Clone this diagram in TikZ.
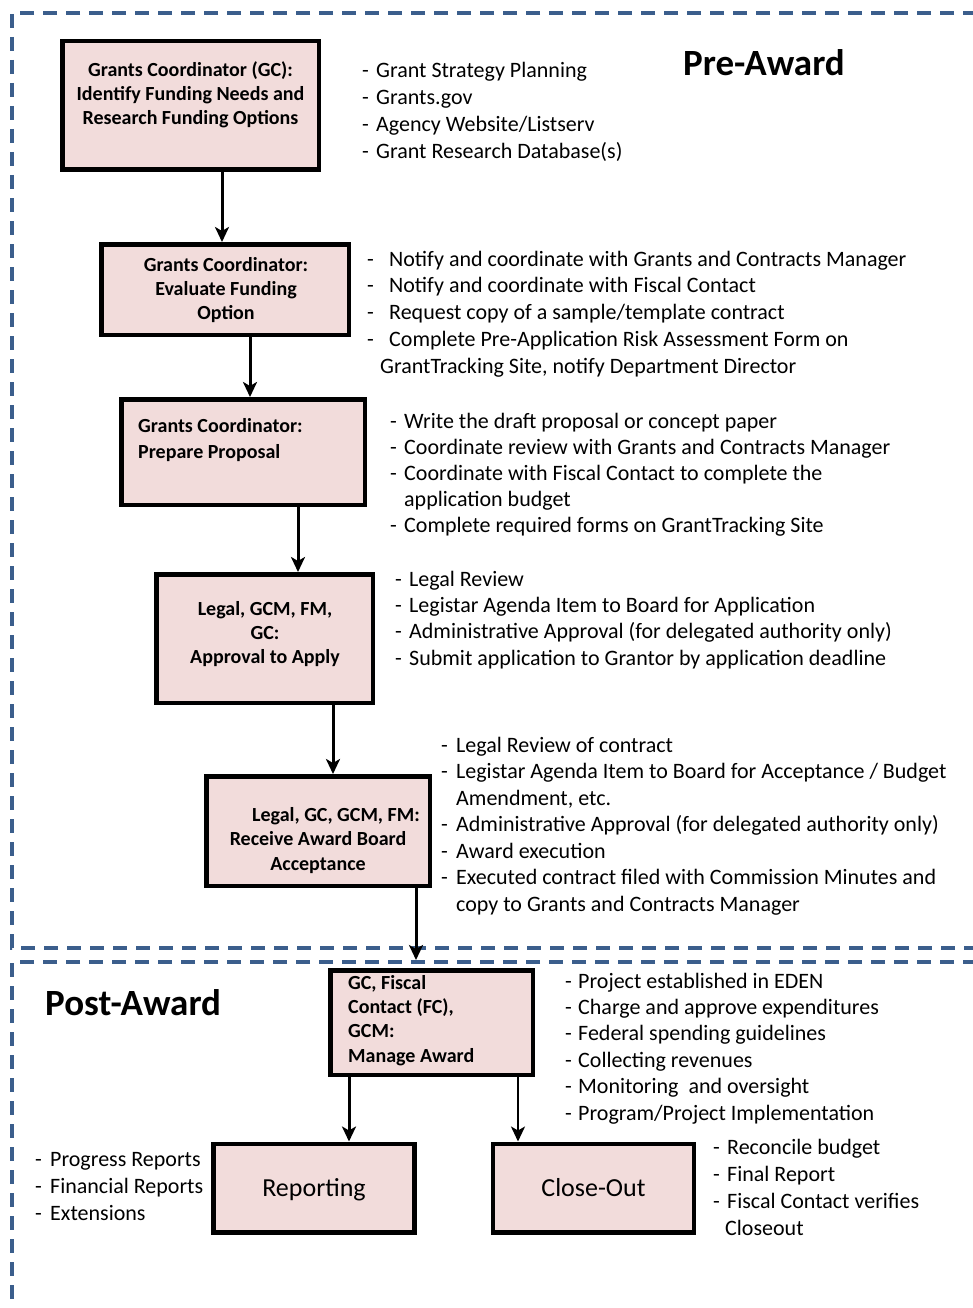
\documentclass[tikz,border=0pt]{standalone}
\usepackage{fontspec}
\setmainfont{Carlito}
\usetikzlibrary{arrows.meta}
\definecolor{pinkfill}{HTML}{F2DCDB}
\definecolor{frameblue}{HTML}{3B5E8C}
\newcommand\litem[2][14pt]{\makebox[#1][l]{-}#2}
\begin{document}
\begin{tikzpicture}[x=1pt,y=-1pt,
  box/.style={draw=black, line width=4.5pt, fill=pinkfill, inner sep=0pt},
  bigbox/.style={box, minimum width=201pt, minimum height=88.5pt, font=\fontsize{26}{30}\selectfont, text height=17pt, text depth=0pt},
  boxtext/.style={inner sep=0pt, font=\bfseries\fontsize{20}{24}\selectfont, align=center, anchor=base},
  list/.style={inner sep=0pt, anchor=base west, align=left, font=\fontsize{22}{26.5}\selectfont},
  title/.style={inner sep=0pt, anchor=base west, font=\bfseries\fontsize{37}{42}\selectfont},
  arr/.style={line width=3pt, -{Stealth[length=15pt,width=14pt,inset=4pt]}},
  frame/.style={draw=frameblue, line width=4pt, dash pattern=on 14pt off 9pt}]
\useasboundingbox (0,0) rectangle (973,1308);
\fill[white] (0,0) rectangle (973,1308);
\begin{scope}
\clip (0,0) rectangle (973,1308);
\draw[frame] (1000,13) -- (12,13) -- (12,948) -- (1000,948);
\draw[frame] (1000,962) -- (12,962) -- (12,1330);
\end{scope}

% boxes
\node[box, minimum width=256.5pt, minimum height=128.5pt] (b1) at (190.5,105.5) {};
\node[box, minimum width=247.5pt, minimum height=90.5pt] (b2) at (225,289.5) {};
\node[box, minimum width=243.5pt, minimum height=105.5pt] (b3) at (243,452) {};
\node[box, minimum width=216.5pt, minimum height=128.5pt] (b4) at (264.5,638.5) {};
\node[box, minimum width=223.5pt, minimum height=109.5pt] (b5) at (318,831) {};
\node[box, minimum width=202.5pt, minimum height=104.5pt] (b6) at (431.5,1022.5) {};
\node[bigbox] (rep) at (314,1188) {Reporting};
\node[bigbox] (clo) at (593.5,1188) {Close-Out};

% box texts (anchored at the baseline of the last line)
\node[boxtext] (b1t) at (190.5,125) {Grants Coordinator (GC):\\Identify Funding Needs and\\Research Funding Options};
\node[boxtext] (b2t) at (226,319) {Grants Coordinator:\\Evaluate Funding\\Option};
\node[boxtext, anchor=base west, align=left, font=\bfseries\fontsize{20}{26}\selectfont] (b3t) at (138,458) {Grants Coordinator:\\Prepare Proposal};
\node[boxtext] (b4t) at (265,663) {Legal, GCM, FM,\\GC:\\Approval to Apply};
\node[boxtext, font=\bfseries\fontsize{20}{24.5}\selectfont] (b5t) at (318,870) {\hspace*{36pt}Legal, GC, GCM, FM:\\Receive Award Board\\Acceptance};
\node[boxtext, anchor=base west, align=left, font=\bfseries\fontsize{20}{24.3}\selectfont] (b6t) at (348,1062) {GC, Fiscal\\Contact (FC),\\GCM:\\Manage Award};

% connectors
\draw[arr] ([xshift=31.5pt]b1.south) -- ([xshift=31.5pt]b1.south |- b2.north);
\draw[arr] ([xshift=25pt]b2.south) -- ([xshift=25pt]b2.south |- b3.north);
\draw[arr] ([xshift=55pt]b3.south) -- ([xshift=55pt]b3.south |- b4.north);
\draw[arr] ([xshift=68.5pt]b4.south) -- ([xshift=68.5pt]b4.south |- b5.north);
\draw[arr, shorten >=8pt] ([xshift=98pt]b5.south) -- ([xshift=98pt]b5.south |- b6.north);
\draw[arr] ([xshift=-82.5pt]b6.south) -- ([xshift=-82.5pt]b6.south |- rep.north);
\draw[arr, line width=2pt] ([xshift=86.5pt]b6.south) -- ([xshift=86.5pt]b6.south |- clo.north);

% titles
\node[title] (pre) at (683,76) {Pre-Award};
\node[title] (post) at (45,1015) {Post-Award};

% lists (anchored at the baseline of the last line)
\node[list, font=\fontsize{22}{27}\selectfont] (l1) at (362,159) {\litem{Grant Strategy Planning}\\\litem{Grants.gov}\\\litem{Agency Website/Listserv}\\\litem{Grant Research Database(s)}};
\node[list, font=\fontsize{22}{26.75}\selectfont] (l2) at (367,373) {\litem[22pt]{Notify and coordinate with Grants and Contracts Manager}\\\litem[22pt]{Notify and coordinate with Fiscal Contact}\\\litem[22pt]{Request copy of a sample/template contract}\\\litem[22pt]{Complete Pre-Application Risk Assessment Form on}\\\hspace*{13pt}GrantTracking Site, notify Department Director};
\node[list, font=\fontsize{22}{26}\selectfont] (l3) at (390,532) {\litem{Write the draft proposal or concept paper}\\\litem{Coordinate review with Grants and Contracts Manager}\\\litem{Coordinate with Fiscal Contact to complete the}\\\hspace*{14pt}application budget\\\litem{Complete required forms on GrantTracking Site}};
\node[list, font=\fontsize{22}{26.3}\selectfont] (l4) at (395,665) {\litem{Legal Review}\\\litem{Legistar Agenda Item to Board for Application}\\\litem{Administrative Approval (for delegated authority only)}\\\litem{Submit application to Grantor by application deadline}};
\node[list] (l5) at (441,911) {\litem[15pt]{Legal Review of contract}\\\litem[15pt]{Legistar Agenda Item to Board for Acceptance / Budget}\\\hspace*{15pt}Amendment, etc.\\\litem[15pt]{Administrative Approval (for delegated authority only)}\\\litem[15pt]{Award execution}\\\litem[15pt]{Executed contract filed with Commission Minutes and}\\\hspace*{15pt}copy to Grants and Contracts Manager};
\node[list, font=\fontsize{22}{26.4}\selectfont] (l6) at (565,1120) {\litem[13pt]{Project established in EDEN}\\\litem[13pt]{Charge and approve expenditures}\\\litem[13pt]{Federal spending guidelines}\\\litem[13pt]{Collecting revenues}\\\litem[13pt]{Monitoring\ \ and oversight}\\\litem[13pt]{Program/Project Implementation}};
\node[list, font=\fontsize{22}{27}\selectfont] (l7) at (35,1220) {\litem[15pt]{Progress Reports}\\\litem[15pt]{Financial Reports}\\\litem[15pt]{Extensions}};
\node[list, font=\fontsize{22}{27}\selectfont] (l8) at (713,1235) {\litem{Reconcile budget}\\\litem{Final Report}\\\litem{Fiscal Contact verifies}\\\hspace*{12pt}Closeout};
\end{tikzpicture}
\end{document}
